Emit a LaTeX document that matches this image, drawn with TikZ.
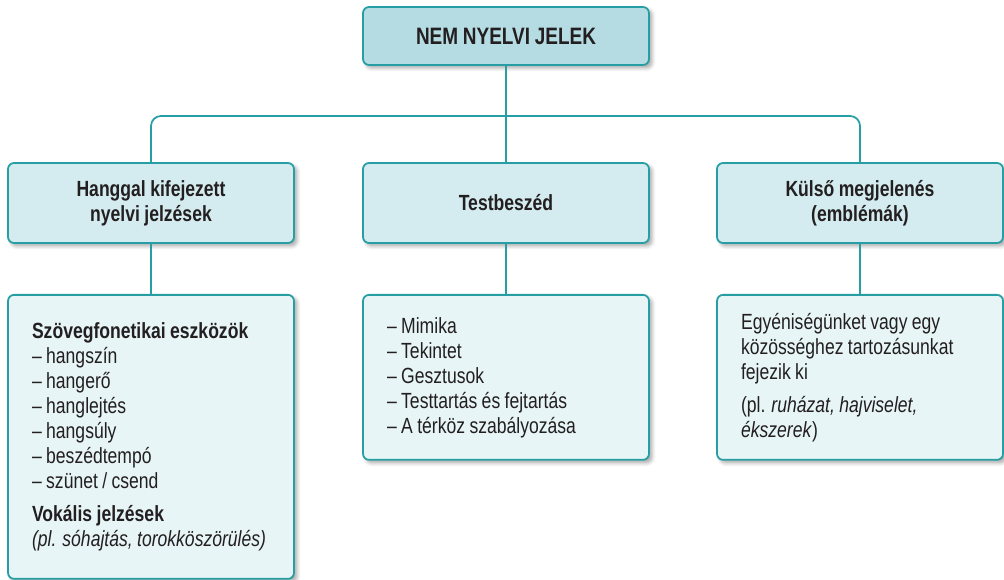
\documentclass[tikz,border=0pt]{standalone}
\usepackage{fontspec}
\setmainfont{Liberation Sans}[FakeStretch=0.8, WordSpace=0.9]
\usetikzlibrary{shadows.blur}
\definecolor{tealline}{RGB}{38,158,164}
\definecolor{topfill}{RGB}{181,220,227}
\definecolor{midfill}{RGB}{212,236,240}
\definecolor{lowfill}{RGB}{231,245,246}
\definecolor{inkdark}{RGB}{35,31,32}
\tikzset{
  box/.style={draw=tealline, line width=1pt, rounded corners=0.12cm, text=inkdark,
    blur shadow={shadow xshift=0.06cm, shadow yshift=-0.06cm, shadow blur steps=6, shadow opacity=35},
    minimum width=5.72cm, inner sep=0pt, align=center},
  headbox/.style={box, fill=topfill, minimum height=1.16cm, font=\bfseries\fontsize{13.5}{16}\selectfont},
  groupbox/.style={box, fill=midfill, minimum height=1.6cm, font=\bfseries\fontsize{12.5}{14.23}\selectfont},
  listbox/.style={box, fill=lowfill, anchor=north, text width=4.76cm, inner xsep=0.48cm, align=flush left,
    font=\fontsize{12.5}{14.23}\selectfont},
  link/.style={draw=tealline, line width=1pt}
}
\begin{document}
\begin{tikzpicture}[x=0.02cm,y=-0.02cm]
\useasboundingbox (0,0) rectangle (1004,580);
\node[headbox] (nem) at (506,36) {NEM NYELVI JELEK};
\node[groupbox] (hang) at (151,203) {Hanggal kifejezett\\nyelvi jelzések};
\node[groupbox] (test) at (506,203) {Testbeszéd};
\node[groupbox] (kulso) at (860,203) {Külső megjelenés\\(emblémák)};
\node[listbox, minimum height=5.68cm] (eszk) at (151,294) {\textbf{Szövegfonetikai eszközök}\\
  – hangszín\\
  – hangerő\\
  – hanglejtés\\
  – hangsúly\\
  – beszédtempó\\
  – szünet / csend\\[0.16cm]
  \textbf{Vokális jelzések}\\
  \mbox{\textit{(pl. sóhajtás, torokköszörülés)}}};
\node[listbox, minimum height=3.3cm] (mozg) at (506,294) {– Mimika\\
  – Tekintet\\
  – Gesztusok\\
  – Testtartás és fejtartás\\
  – A térköz szabályozása};
\node[listbox, minimum height=3.3cm] (embl) at (860,294) {Egyéniségünket vagy egy\\
  közösséghez tartozásunkat\\
  fejezik ki\\[0.16cm]
  (pl. \textit{ruházat, hajviselet,}\\
  \textit{ékszerek})};
\coordinate (bar) at (506,116);
\path[link] (nem) edge (test);
\draw[link, rounded corners=0.2cm] (hang.north) |- (bar) -| (kulso.north);
\path[link] (hang) edge (eszk);
\path[link] (kulso) edge (embl);
\path[link] (test) edge (mozg);
\end{tikzpicture}
\end{document}
